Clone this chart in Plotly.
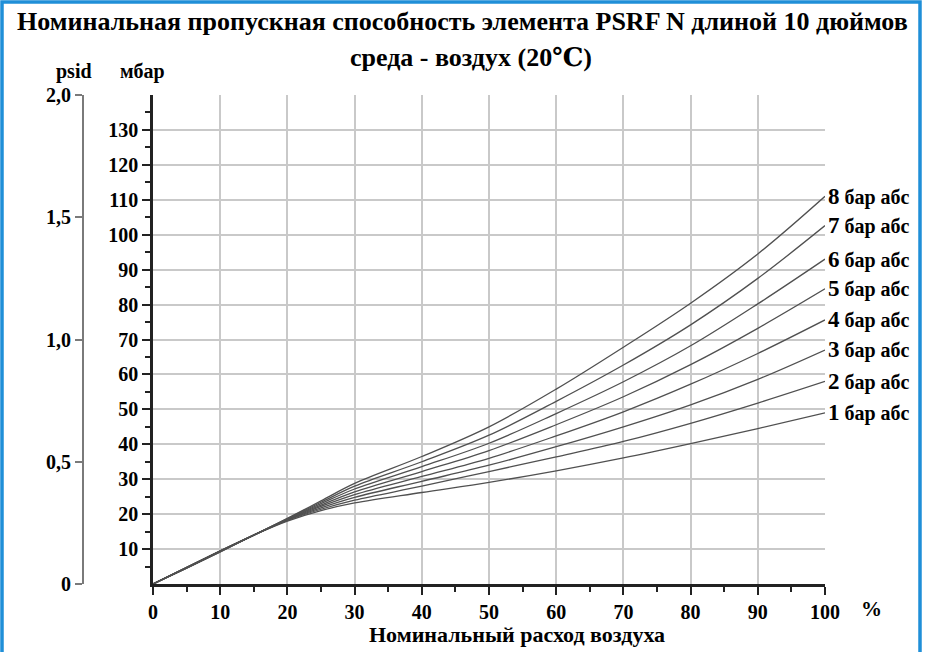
import plotly.graph_objects as go

# ---- data ----
flow_pct = [0, 5, 10, 15, 20, 25, 30, 40, 50, 60, 70, 80, 90, 100]
pressures = ["1", "2", "3", "4", "5", "6", "7", "8"]
dp_1bar = [0, 4.8, 9.5, 14.0, 18.0, 21.0, 23.2, 26.2, 29.1, 32.4, 36.1, 40.2, 44.5, 49]
dp_2bar = [0, 4.8, 9.5, 14.0, 18.2, 21.4, 24.0, 28.0, 32.2, 36.4, 40.8, 46.0, 51.8, 58]
dp_3bar = [0, 4.7, 9.4, 14.0, 18.3, 21.8, 24.8, 29.4, 34.0, 39.3, 45.0, 51.3, 58.6, 67]
dp_4bar = [0, 4.7, 9.4, 14.0, 18.4, 22.2, 25.6, 30.8, 36.0, 42.4, 49.3, 57.2, 66.0, 75.6]
dp_5bar = [0, 4.6, 9.3, 14.0, 18.5, 22.6, 26.4, 32.2, 38.2, 45.6, 53.6, 62.8, 73.2, 84.5]
dp_6bar = [0, 4.6, 9.3, 14.0, 18.6, 23.0, 27.2, 33.6, 40.3, 48.8, 57.9, 68.2, 80.2, 93]
dp_7bar = [0, 4.5, 9.2, 14.0, 18.7, 23.4, 28.0, 35.0, 42.6, 52.3, 62.7, 74.2, 87.5, 102.6]
dp_8bar = [0, 4.5, 9.2, 14.0, 18.8, 23.8, 28.8, 36.5, 45.0, 55.8, 67.8, 80.4, 94.5, 111]
series = [dp_1bar, dp_2bar, dp_3bar, dp_4bar, dp_5bar, dp_6bar, dp_7bar, dp_8bar]

x_ticks = [0, 10, 20, 30, 40, 50, 60, 70, 80, 90, 100]
x_grid = [10, 20, 30, 40, 50, 60, 70, 80, 90]
mbar_ticks = [10, 20, 30, 40, 50, 60, 70, 80, 90, 100, 110, 120, 130]
psid_ticks = [0, 0.5, 1.0, 1.5, 2.0]
psid_labels = ["0", "0,5", "1,0", "1,5", "2,0"]

title1 = "Номинальная пропускная способность элемента PSRF N длиной 10 дюймов"
title2 = "среда - воздух (20℃)"
x_title = "Номинальный расход воздуха"

FONT = "Liberation Serif, Tinos, Times New Roman, DejaVu Serif, serif"
W, H = 927, 652
ML, MR, MT, MB = 60, 102, 95, 68
plot_w = W - ML - MR
plot_h = H - MT - MB
x0_dom = (153 - ML) / plot_w

fig = go.Figure()
for p, ys in zip(pressures, series):
    fig.add_trace(go.Scatter(
        x=flow_pct, y=ys, mode="lines", line=dict(color="#505050", width=1.3, shape="spline"),
        showlegend=False, hoverinfo="skip"))
    fig.add_annotation(
        x=100, y=ys[-1], xref="x", yref="y", xanchor="left", yanchor="middle", xshift=1,
        text=f"<span style='font-size:23px'><b>{p}</b></span> <b>бар абс</b>",
        showarrow=False, font=dict(family=FONT, size=20, color="black"))

# invisible traces to create the psid axis and the grid-only x axis
fig.add_trace(go.Scatter(x=[0], y=[0], yaxis="y2", mode="markers",
                         marker=dict(opacity=0), showlegend=False, hoverinfo="skip"))
fig.add_trace(go.Scatter(x=[0], y=[0], xaxis="x2", mode="markers",
                         marker=dict(opacity=0), showlegend=False, hoverinfo="skip"))

tickfont = dict(family=FONT, size=20, color="black", weight="bold")

fig.update_layout(
    width=W, height=H,
    margin=dict(l=ML, r=MR, t=MT, b=MB),
    paper_bgcolor="white", plot_bgcolor="white",
    xaxis=dict(domain=[x0_dom, 1], range=[0, 100], tickvals=x_ticks, ticktext=[str(v) for v in x_ticks],
               showgrid=False, zeroline=False, showline=True, linecolor="#222222", linewidth=2.5,
               ticks="outside", ticklen=8, tickwidth=2, tickcolor="#222222",
               minor=dict(tickvals=[5, 15, 25, 35, 45, 55, 65, 75, 85, 95], ticks="outside",
                          ticklen=5, tickwidth=2, tickcolor="#222222"),
               tickfont=tickfont, anchor="y"),
    xaxis2=dict(domain=[x0_dom, 1], range=[0, 100], overlaying="x", tickvals=x_grid,
                showticklabels=False, showgrid=True, gridcolor="#c9c9c9", gridwidth=1.8,
                zeroline=False, showline=False, ticks="", layer="below traces"),
    yaxis=dict(range=[0, 140], tickvals=mbar_ticks, ticktext=[str(v) for v in mbar_ticks],
               showgrid=True, gridcolor="#c9c9c9", gridwidth=1.8, zeroline=False,
               showline=True, linecolor="#222222", linewidth=2.5,
               ticks="outside", ticklen=8, tickwidth=2, tickcolor="#222222",
               minor=dict(tickvals=[5 + 10 * i for i in range(14)], ticks="outside",
                          ticklen=5, tickwidth=2, tickcolor="#222222"),
               tickfont=tickfont, anchor="x"),
    yaxis2=dict(range=[0, 2.0], overlaying="y", anchor="free", position=(83 - ML) / plot_w,
                side="left", tickvals=psid_ticks, ticktext=psid_labels, showgrid=False,
                zeroline=False, showline=True, linecolor="#7a7a7a", linewidth=2,
                ticks="outside", ticklen=7, tickwidth=2, tickcolor="#7a7a7a",
                tickfont=tickfont),
    font=dict(family=FONT, color="black"),
)

def px_x(px):
    return (px - ML) / plot_w

def px_y(py):
    return (H - MB - py) / plot_h

ann_font = dict(family=FONT, color="black", weight="bold")

def label(px, py, text, size):
    fig.add_annotation(x=px_x(px), y=px_y(py), xref="paper", yref="paper", text=text,
                       xanchor="center", yanchor="middle", showarrow=False,
                       font=dict(size=size, **ann_font))

label(462, 22, title1, 26)
label(471, 58, title2, 26)
label(74, 72, "psid", 20)
label(142, 72, "мбар", 20)
label(517, 634, x_title, 22)
label(871, 609, "%", 21)

# blue frame around the picture
fig.add_shape(type="rect", xref="paper", yref="paper",
              x0=px_x(2), x1=px_x(920), y0=px_y(665), y1=px_y(2),
              line=dict(color="#1f8fd8", width=3.5), layer="above")

fig.write_html("out.html", config={"displayModeBar": False},
               post_script="document.body.style.margin='0px';")
